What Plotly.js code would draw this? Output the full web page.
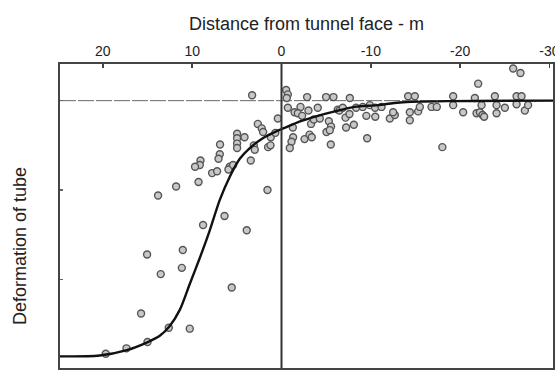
<!DOCTYPE html>
<html>
<head>
<meta charset="utf-8">
<script src="https://cdn.plot.ly/plotly-3.0.1.min.js"></script>
<style>
  html, body { margin: 0; padding: 0; background: #fff; }
  #chart { width: 555px; height: 370px; }
</style>
</head>
<body>
<div id="chart"></div>
<script>
// Measured tube deformation versus distance from the tunnel face (m)
const pointDistance = [
  19.68, 17.36, 15.00, 15.72, 12.62, 10.27, 13.52, 11.16, 15.05, 11.05,
  5.57, 8.78, 6.38, 3.89, 13.82, 11.80, 9.29, 1.57, 9.07, 9.15,
  9.68, 7.77, 7.21, 6.88, 6.91, 7.05, 5.79, 5.94, 5.42, 4.97,
  4.97, 4.97, 4.97, 4.14, 3.44, 3.10, 2.99, 3.29, 2.65, 2.21,
  2.06, 1.50, 1.23, 1.20, 0.69, 0.41,
  -0.52, -0.71, -0.59, -2.87, -4.99, -5.82, -7.65, -0.71, -1.46, -2.13,
  -1.83, -2.31, -3.02, -4.06, -3.31, -3.62, -1.27, -1.30, -1.12, -0.93,
  -2.58, -3.14, -3.39, -5.30, -5.55, -5.04, -5.41, -5.52, -4.29, -6.30,
  -6.49, -6.86, -7.17, -7.61, -7.23, -8.10, -8.35, -9.10, -9.89, -10.48,
  -11.20, -9.50, -10.50, -9.59, -12.13, -12.69, -12.50, -14.37, -14.37, -15.30,
  -15.49, -16.80, -17.39, -18.01, -19.22, -20.34, -21.84, -22.21, -22.51, -22.69,
  -22.40, -24.08, -24.08, -25.01, -26.32, -27.25, -27.61, -22.02, -25.94, -26.76,
  -14.18, -14.93, -19.22, -21.65, -23.89, -26.32, -26.88
];
const pointDeformation = [
  -2.83, -2.77, -2.70, -2.38, -2.54, -2.55, -1.94, -1.87, -1.72, -1.67,
  -2.09, -1.39, -1.29, -1.45, -1.06, -0.96, -0.91, -1.00, -0.67, -0.72,
  -0.74, -0.81, -0.79, -0.49, -0.60, -0.65, -0.74, -0.77, -0.72, -0.37,
  -0.42, -0.48, -0.53, -0.41, -0.67, -0.50, -0.55, 0.06, -0.26, -0.31,
  -0.35, -0.52, -0.50, -0.41, -0.36, -0.20,
  0.12, 0.07, 0.03, 0.04, 0.04, 0.04, 0.03, -0.08, -0.13, -0.07,
  -0.14, -0.17, -0.11, -0.08, -0.26, -0.21, -0.30, -0.41, -0.46, -0.53,
  -0.43, -0.38, -0.41, -0.23, -0.29, -0.35, -0.33, -0.49, -0.20, -0.10,
  -0.11, -0.08, -0.19, -0.15, -0.30, -0.27, -0.08, -0.07, -0.05, -0.08,
  -0.07, -0.17, -0.18, -0.42, -0.20, -0.16, -0.13, -0.22, -0.13, -0.12,
  -0.07, -0.07, -0.07, -0.52, -0.05, -0.13, -0.14, -0.13, -0.16, -0.18,
  -0.05, -0.05, -0.14, -0.08, -0.04, -0.11, -0.05, 0.19, 0.36, 0.31,
  0.05, 0.05, 0.05, 0.03, 0.05, 0.05, 0.05
];

// Fitted deformation curve
const curveDistance = [
  24.83, 20.35, 17.32, 14.97, 13.63, 12.51, 11.39, 10.27, 9.15, 8.03,
  6.91, 5.79, 4.67, 3.55, 2.09, 0.53, -0.93, -2.16, -4.07, -5.97,
  -8.21, -10.78, -13.25, -18.85, -30.4
];
const curveDeformation = [
  -2.86, -2.85, -2.79, -2.70, -2.63, -2.52, -2.34, -2.05, -1.76, -1.45,
  -1.11, -0.85, -0.65, -0.53, -0.42, -0.34, -0.28, -0.23, -0.17, -0.12,
  -0.07, -0.05, -0.02, -0.005, 0
];

const distanceTicks = [20, 10, 0, -10, -20, -30];
const deformationTicks = [0, -1, -2];

const measured = {
  x: pointDistance, y: pointDeformation,
  type: 'scatter', mode: 'markers',
  marker: { size: 7, color: '#c8c8c8', line: { color: '#555', width: 1.4 } },
  hoverinfo: 'skip', showlegend: false
};
const fitted = {
  x: curveDistance, y: curveDeformation,
  type: 'scatter', mode: 'lines',
  line: { color: '#111', width: 2.4, shape: 'spline', smoothing: 0.8 },
  hoverinfo: 'skip', showlegend: false
};

const layout = {
  width: 555, height: 370,
  margin: { l: 60, r: 2, t: 64, b: 2 },
  paper_bgcolor: '#fff', plot_bgcolor: '#fff',
  font: { family: 'Liberation Sans, Arial, sans-serif', color: '#222' },
  xaxis: {
    side: 'top',
    range: [24.8, -30.4],
    tickvals: distanceTicks,
    ticktext: distanceTicks.map(String),
    ticklabeloverflow: 'allow',
    ticks: 'inside', ticklen: 4, tickwidth: 1.5, tickcolor: '#444',
    tickfont: { size: 14, color: '#222' },
    showgrid: false, zeroline: false,
    showline: true, mirror: true, linecolor: '#444', linewidth: 2,
    title: { text: 'Distance from tunnel face - m', font: { size: 18, color: '#222' }, standoff: 8 }
  },
  yaxis: {
    range: [-2.99, 0.41],
    tickvals: deformationTicks,
    showticklabels: false,
    ticks: 'inside', ticklen: 3, tickwidth: 1.5, tickcolor: '#666',
    showgrid: false, zeroline: false,
    showline: true, mirror: true, linecolor: '#444', linewidth: 2
  },
  shapes: [
    { type: 'line', xref: 'paper', yref: 'y', x0: 0, x1: 1, y0: 0, y1: 0,
      line: { color: '#666', width: 1, dash: '16px,2px' }, layer: 'below' },
    { type: 'line', xref: 'x', yref: 'paper', x0: 0, x1: 0, y0: 0, y1: 1,
      line: { color: '#333', width: 2 }, layer: 'above' }
  ],
  annotations: [
    { text: 'Deformation of tube', xref: 'paper', yref: 'paper',
      x: -0.08, y: 0.4, textangle: -90, showarrow: false,
      xanchor: 'center', yanchor: 'middle',
      font: { size: 18, color: '#222' } }
  ]
};

Plotly.newPlot('chart', [measured, fitted], layout, { displayModeBar: false, staticPlot: true });
</script>
</body>
</html>
